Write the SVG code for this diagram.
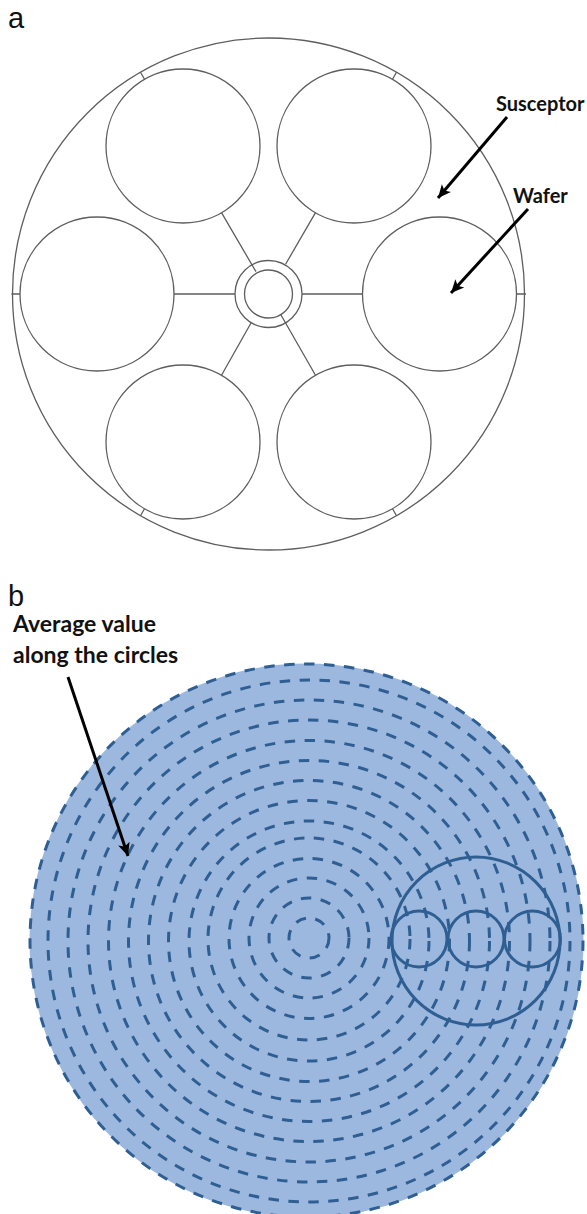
<svg xmlns="http://www.w3.org/2000/svg" width="587" height="1214" viewBox="0 0 587 1214">
<style>
.thin{fill:#fff;stroke:#5e5e5e;stroke-width:1.3}
.line{fill:none;stroke:#5e5e5e;stroke-width:1.3}
.arrow{fill:none;stroke:#000;stroke-width:3}
.panel{font-family:"Liberation Sans",Arial,sans-serif;font-size:29px;fill:#111}
.label{font-family:Lato,"Open Sans",sans-serif;font-weight:700;fill:#111}
.dash{fill:none;stroke:#2f5f92;stroke-width:3;stroke-dasharray:10.5 9.5}
.solid{fill:none;stroke:#2f5f92;stroke-width:3}
</style>
<defs>
<marker id="head" markerUnits="userSpaceOnUse" markerWidth="20" markerHeight="20" refX="14" refY="8" orient="auto">
<path d="M1 2 L14 8 L1 14 L4 8 Z" fill="#000"/>
</marker>
</defs>
<rect width="587" height="1214" fill="#fff"/>
<text class="panel" x="8" y="28">a</text>
<g id="susceptor"><circle class="thin" cx="268.5" cy="294" r="256"/></g>
<g id="connectors">
<path class="line" d="M11.500 294H20M516.500 294H526M140.500 72.300L144.500 79.300M396.500 72.300L392.500 79.300M140.500 515.700L144.500 508.700M396.500 515.700L392.500 508.700"/>
<path class="line" d="M174 294H235M302 294H362M221.500 212.700L256 271.700M315.500 212.700L285.700 264M221.500 375.300L251 323M315.500 375.300L281 315"/>
</g>
<g id="wafer-1"><circle class="thin" cx="439.500" cy="294" r="77"/></g>
<g id="wafer-2"><circle class="thin" cx="97" cy="294" r="77"/></g>
<g id="wafer-3"><circle class="thin" cx="183" cy="146" r="77"/></g>
<g id="wafer-4"><circle class="thin" cx="354" cy="146" r="77"/></g>
<g id="wafer-5"><circle class="thin" cx="183" cy="442" r="77"/></g>
<g id="wafer-6"><circle class="thin" cx="354" cy="442" r="77"/></g>
<g id="hub">
<circle class="line" cx="268.500" cy="294" r="33.500"/>
<circle class="line" cx="268.500" cy="294" r="24"/>
</g>
<g id="arrows-a">
<line class="arrow" x1="507" y1="117" x2="438" y2="198" marker-end="url(#head)"/>
<line class="arrow" x1="528" y1="209" x2="451" y2="293" marker-end="url(#head)"/>
</g>
<text class="label" x="496" y="111" font-size="20">Susceptor</text>
<text class="label" x="513" y="203" font-size="20">Wafer</text>

<text class="panel" x="8" y="606">b</text>
<text class="label" x="13" y="632" font-size="23">Average value</text>
<text class="label" x="13" y="663" font-size="23">along the circles</text>
<g id="disc"><circle cx="306.500" cy="940.500" r="277" fill="#9cb8de"/></g>
<g id="rings">
<circle class="dash" cx="306.500" cy="940.500" r="276.500"/>
<circle class="dash" cx="309" cy="941" r="261"/>
<circle class="dash" cx="309" cy="941" r="241"/>
<circle class="dash" cx="309" cy="941" r="221"/>
<circle class="dash" cx="309" cy="941" r="200.500"/>
<circle class="dash" cx="309" cy="941" r="180.500"/>
<circle class="dash" cx="309" cy="941" r="160.500"/>
<circle class="dash" cx="309" cy="941" r="140.500"/>
<circle class="dash" cx="309" cy="941" r="120"/>
<circle class="dash" cx="309" cy="939" r="101"/>
<circle class="dash" cx="309" cy="938.500" r="80"/>
<circle class="dash" cx="309" cy="938" r="60"/>
<circle class="dash" cx="309" cy="938" r="40"/>
<circle class="dash" cx="309" cy="938" r="20"/>
</g>
<g id="sample-wafer"><circle class="solid" cx="476" cy="941" r="84"/></g>
<g id="sample-1"><circle class="solid" cx="419" cy="939" r="28"/></g>
<g id="sample-2"><circle class="solid" cx="476" cy="939" r="28"/></g>
<g id="sample-3"><circle class="solid" cx="532.500" cy="939" r="28"/></g>
<g id="arrows-b">
<line class="arrow" x1="68" y1="677" x2="128" y2="856" marker-end="url(#head)"/>
</g>
</svg>
